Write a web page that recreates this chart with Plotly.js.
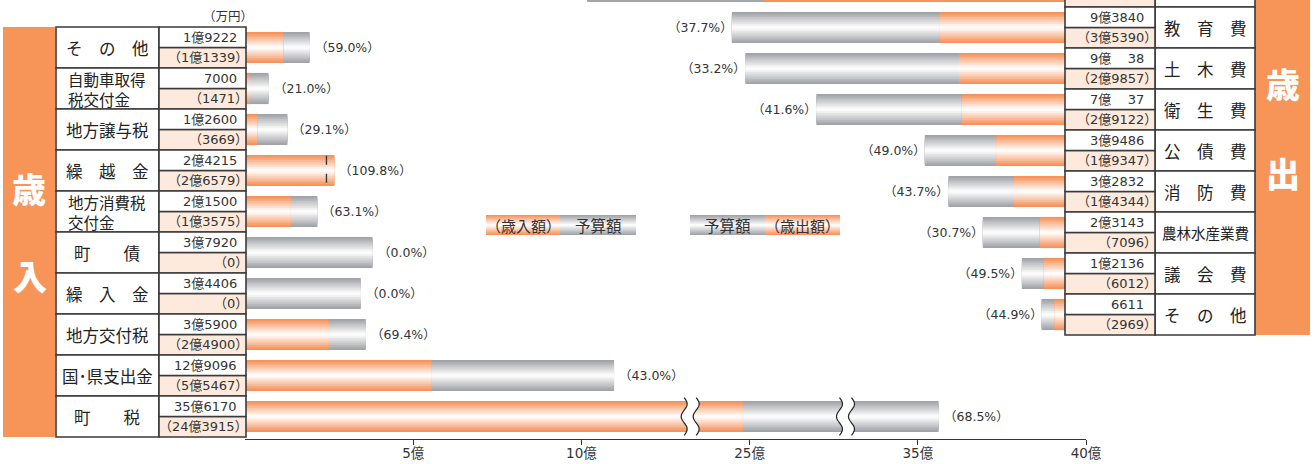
<!DOCTYPE html>
<html><head><meta charset="utf-8">
<script src="https://cdn.plot.ly/plotly-3.0.1.min.js"></script>
<style>html,body{margin:0;padding:0;background:#fff}#chart{width:1314px;height:464px}</style>
</head><body><div id="chart"></div>
<script>
// ---------- data (万円) ----------
const revCategories = ['そ　の　他','自動車取得<br>税交付金','地方譲与税','繰　越　金','地方消費税<br>交付金','町　　債','繰　入　金','地方交付税','国･県支出金','町　　税'];
const revBudget = [19222, 7000, 12600, 24215, 21500, 37920, 34406, 35900, 129096, 356170];
const revActual = [11339, 1471, 3669, 26579, 13575, 0, 0, 24900, 55467, 243915];

// first row is cut off at the top of the picture
const expCategories = ['民　生　費','教　育　費','土　木　費','衛　生　費','公　債　費','消　防　費','農林水産業費','議　会　費','そ　の　他'];
const expBudget = [134600, 93840, 90038, 70037, 39486, 32832, 23143, 12136, 6611];
const expActual = [84800, 35390, 29857, 29122, 19347, 14344, 7096, 6012, 2969];

const axisTickValues = [5, 10, 25, 35, 40];           // 億
const axisTickLabels = ['5億', '10億', '25億', '35億', '40億'];
const unitLabel = '（万円）';
const legendRev = ['（歳入額）', '予算額'];
const legendExp = ['予算額', '（歳出額）'];

// ---------- helpers ----------
const W = 1314, H = 464;
const X = px => px / W, Y = py => 1 - py / H;
const F = 'Noto Sans CJK JP, Noto Sans, sans-serif';
const FN = 'DejaVu Sans, Noto Sans CJK JP, sans-serif';
// broken axis: value (億) -> axis units
const brk = [[0, 0], [10, 10], [25, 15], [35, 20], [40, 25]];
function toAxis(v) {
  for (let i = 1; i < brk.length; i++) {
    if (v <= brk[i][0] || i === brk.length - 1) {
      const [v0, a0] = brk[i - 1], [v1, a1] = brk[i];
      return a0 + (v - v0) * (a1 - a0) / (v1 - v0);
    }
  }
}
const breakAt = [19.7, 30.7]; // 億, where the break symbols sit
function fmt(v) {
  if (v >= 10000) return Math.floor(v / 10000) + '億' + String(v % 10000).padStart(4, '\u2007');
  return String(v);
}
const pct = (a, b) => '（' + (a / b * 100).toFixed(1) + '%）';
function hex2rgb(h) { h = h.replace('#', ''); return [0, 2, 4].map(i => parseInt(h.substr(i, 2), 16)); }
function mix(a, b, t) { const A = hex2rgb(a), B = hex2rgb(b); return 'rgb(' + A.map((v, i) => Math.round(v + (B[i] - v) * t)).join(',') + ')'; }

const ORANGE = '#F6925A', GREY = '#A1A3A7', BAND = '#F79458', PEACH = '#FDEADC', LINE = '#3a3a3a';
const NL = 9, BW = 0.76;
function layers(base) {
  return Array.from({ length: NL }, (_, k) => ({ w: BW * (1 - k / NL), c: mix(base, '#ffffff', (k / (NL - 1)) * 0.96) }));
}

const revRows = revBudget.map((_, i) => i);
const expRows = expBudget.map((_, i) => i);
const traces = [];
function addBars(vals, rows, base, xa, ya) {
  layers(base).forEach(L => traces.push({
    type: 'bar', orientation: 'h', x: vals, y: rows, width: L.w,
    marker: { color: L.c, line: { width: 0 } }, xaxis: xa, yaxis: ya,
    hoverinfo: 'skip', showlegend: false
  }));
}
addBars(revBudget.map(v => toAxis(v / 1e4)), revRows, GREY, 'x', 'y');
addBars(revActual.map(v => toAxis(v / 1e4)), revRows, ORANGE, 'x', 'y');
addBars(expBudget.map(v => v / 1e4), expRows, GREY, 'x2', 'y2');
addBars(expActual.map(v => v / 1e4), expRows, ORANGE, 'x2', 'y2');

// ---------- shapes ----------
const shapes = [];
const S = o => shapes.push(o);
// left band + table
S({ type: 'rect', xref: 'paper', yref: 'paper', x0: X(3), x1: X(55), y0: Y(437), y1: Y(27), fillcolor: BAND, line: { width: 0 } });
revRows.forEach(i => {
  S({ type: 'rect', xref: 'paper', yref: 'y', x0: X(56), x1: X(159), y0: i - 0.5, y1: i + 0.5, fillcolor: '#fff', line: { color: LINE, width: 1.6 } });
  S({ type: 'rect', xref: 'paper', yref: 'y', x0: X(159), x1: X(246), y0: i, y1: i + 0.5, fillcolor: PEACH, line: { color: LINE, width: 1.6 } });
  S({ type: 'rect', xref: 'paper', yref: 'y', x0: X(159), x1: X(246), y0: i - 0.5, y1: i, fillcolor: '#fff', line: { color: LINE, width: 1.6 } });
});
// right band + table
S({ type: 'rect', xref: 'paper', yref: 'paper', x0: X(1255), x1: X(1310), y0: Y(335), y1: 1, fillcolor: BAND, line: { width: 0 } });
expRows.forEach(i => {
  S({ type: 'rect', xref: 'paper', yref: 'y2', x0: X(1155), x1: X(1255), y0: i - 0.5, y1: i + 0.5, fillcolor: '#fff', line: { color: LINE, width: 1.6 } });
  S({ type: 'rect', xref: 'paper', yref: 'y2', x0: X(1065), x1: X(1155), y0: i, y1: i + 0.5, fillcolor: PEACH, line: { color: LINE, width: 1.6 } });
  S({ type: 'rect', xref: 'paper', yref: 'y2', x0: X(1065), x1: X(1155), y0: i - 0.5, y1: i, fillcolor: '#fff', line: { color: LINE, width: 1.6 } });
});
// dashed budget marker where revenue exceeds budget
revRows.forEach(i => {
  if (revActual[i] > revBudget[i]) {
    const xb = toAxis(revBudget[i] / 1e4);
    S({ type: 'line', xref: 'x', yref: 'y', x0: xb, x1: xb, y0: i - 0.36, y1: i + 0.36, line: { color: '#333', width: 1.3, dash: 'dash' } });
  }
});
// axis break symbols on the largest bar
const pxPerUnit = (1086 - 245) / 25;
const bigRow = revBudget.indexOf(Math.max(...revBudget));
breakAt.forEach(b => {
  const xc = toAxis(b), g = 6 / pxPerUnit, amp = 3 / pxPerUnit;
  const y0 = bigRow - 0.46, y1 = bigRow + 0.46, n = 30;
  const pts = off => Array.from({ length: n + 1 }, (_, j) => {
    const t = j / n; return [xc + off + amp * Math.sin(2 * Math.PI * 1.5 * t), y0 + (y1 - y0) * t];
  });
  const L = pts(-g), R = pts(g);
  const poly = 'M' + L.map(p => p.join(',')).join('L') + 'L' + R.slice().reverse().map(p => p.join(',')).join('L') + 'Z';
  S({ type: 'path', xref: 'x', yref: 'y', path: poly, fillcolor: '#fff', line: { width: 0 } });
  [L, R].forEach(P => S({ type: 'path', xref: 'x', yref: 'y', path: 'M' + P.map(p => p.join(',')).join('L'), line: { color: '#222', width: 1.2 } }));
});
// legend boxes (gradient)
function gradBox(x0, x1, yc, h, base) {
  layers(base).forEach((L, k) => {
    const hh = h * (1 - k / NL) / 2;
    S({ type: 'rect', xref: 'paper', yref: 'paper', x0: X(x0), x1: X(x1), y0: Y(yc + hh), y1: Y(yc - hh), fillcolor: L.c, line: { width: 0 } });
  });
}
gradBox(486, 560, 225, 20, ORANGE); gradBox(560, 636, 225, 20, GREY);
gradBox(690, 765, 225, 20, GREY); gradBox(765, 840, 225, 20, ORANGE);

// ---------- annotations ----------
const ann = [];
function A(o, size, color, weight, fam) {
  ann.push(Object.assign({ showarrow: false, xanchor: 'center', yanchor: 'middle',
    font: { family: fam || F, size: size || 12.5, color: color || '#333', weight: weight || 400 } }, o));
}
revRows.forEach(i => {
  const a = revActual[i], b = revBudget[i];
  const multi = revCategories[i].includes('<br>');
  A({ xref: 'paper', yref: 'y', x: X(107), y: i, text: revCategories[i], align: 'left' }, multi ? 15.5 : 16.5, '#222');
  A({ xref: 'paper', yref: 'y', x: X(239), xanchor: 'right', y: i - 0.25, text: fmt(b) }, 13, '#333', 400, FN);
  A({ xref: 'paper', yref: 'y', x: X(250), xanchor: 'right', y: i + 0.25, text: '（' + fmt(a) + '）' }, 13, '#333', 400, FN);
  A({ xref: 'x', yref: 'y', x: toAxis(Math.max(a, b) / 1e4), xanchor: 'left', xshift: 3, y: i, text: pct(a, b) }, 12.5, '#333', 400, FN);
});
expRows.forEach(i => {
  const a = expActual[i], b = expBudget[i];
  const small = expCategories[i].length > 5;
  A({ xref: 'paper', yref: 'y2', x: X(1205), y: i, text: expCategories[i] }, small ? 14.5 : 16.5, '#222');
  A({ xref: 'paper', yref: 'y2', x: X(1146), xanchor: 'right', y: i - 0.25, text: fmt(b) }, 13, '#333', 400, FN);
  A({ xref: 'paper', yref: 'y2', x: X(1159), xanchor: 'right', y: i + 0.25, text: '（' + fmt(a) + '）' }, 13, '#333', 400, FN);
  A({ xref: 'x2', yref: 'y2', x: Math.max(a, b) / 1e4, xanchor: 'right', xshift: 3, y: i, text: pct(a, b) }, 12.5, '#333', 400, FN);
});
A({ xref: 'paper', yref: 'paper', x: X(228), y: Y(16), text: unitLabel }, 12.5);
A({ xref: 'paper', yref: 'paper', x: X(523), y: Y(225), text: legendRev[0] }, 15);
A({ xref: 'paper', yref: 'paper', x: X(598), y: Y(225), text: legendRev[1] }, 15.5);
A({ xref: 'paper', yref: 'paper', x: X(727), y: Y(225), text: legendExp[0] }, 15.5);
A({ xref: 'paper', yref: 'paper', x: X(802), y: Y(225), text: legendExp[1] }, 15);
// side bands
A({ xref: 'paper', yref: 'paper', x: X(29), y: Y(188), text: '歳' }, 34, '#fff', 900);
A({ xref: 'paper', yref: 'paper', x: X(30), y: Y(275), text: '入' }, 34, '#fff', 900);
A({ xref: 'paper', yref: 'paper', x: X(1283), y: Y(83), text: '歳' }, 34, '#fff', 900);
A({ xref: 'paper', yref: 'paper', x: X(1283), y: Y(172), text: '出' }, 34, '#fff', 900);

const layout = {
  width: W, height: H, margin: { l: 0, r: 0, t: 0, b: 0 },
  paper_bgcolor: '#fff', plot_bgcolor: 'rgba(0,0,0,0)',
  barmode: 'overlay', showlegend: false, font: { family: F, color: '#333' },
  xaxis: {
    domain: [X(245), X(1086)], range: [0, 25], anchor: 'y',
    tickvals: axisTickValues.map(toAxis), ticktext: axisTickLabels,
    ticks: 'outside', ticklen: 5, tickcolor: '#333', tickwidth: 1, ticklabelstandoff: -3,
    showline: true, linecolor: '#333', linewidth: 1.2, showgrid: false, zeroline: false,
    tickfont: { family: FN, size: 13.5, color: '#333' }, fixedrange: true
  },
  yaxis: { domain: [Y(439), Y(24)], range: [9.5 + 2 / 41, -0.5 - 3 / 41], visible: false, anchor: 'x', fixedrange: true },
  xaxis2: { domain: [0, X(1065)], range: [30, 0], visible: false, anchor: 'y2', fixedrange: true },
  yaxis2: { domain: [Y(336), 1], range: [(336 + 13.5) / 41, 13.5 / 41], visible: false, anchor: 'x2', fixedrange: true },
  shapes: shapes, annotations: ann
};
Plotly.newPlot('chart', traces, layout, { staticPlot: true, displayModeBar: false });
</script></body></html>
